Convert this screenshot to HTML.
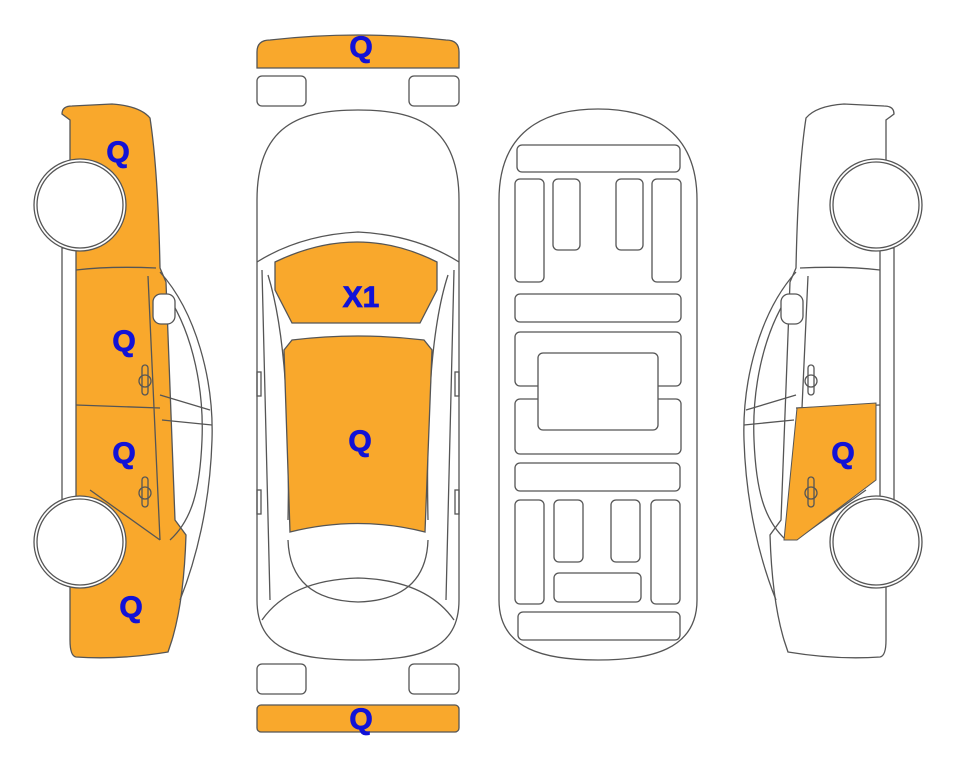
<!DOCTYPE html>
<html><head><meta charset="utf-8"><style>
html,body{margin:0;padding:0;background:#fff}
svg{display:block}
text{font-family:"Liberation Sans",Arial,sans-serif;font-weight:bold;font-size:30px;fill:#1212d6;stroke:#1212d6;stroke-width:0.8;text-anchor:middle}
</style></head><body>
<svg width="963" height="768" viewBox="0 0 963 768" xmlns="http://www.w3.org/2000/svg">
<defs>
<g id="side" stroke="#555" stroke-width="1.3" fill="none">
  <path d="M62,114 Q62,106 72,106 L112,104 Q140,106 150,118 Q158,170 160,268 L166,282 L175,520 L186,535 Q184,600 172,640 L168,652 Q120,660 76,657 Q70,656 70,640 L70,120 Z"/>
  <path d="M160,272 C196,312 214,380 212,440 C210,505 196,560 180,600"/>
  <path d="M168,296 C194,336 204,392 202,440 C200,490 192,520 170,540"/>
  <path d="M160,395 L210,410 M162,420 L212,425"/>
  <rect x="153" y="294" width="22" height="30" rx="8" fill="#fff"/>
  <path d="M76,270 Q110,266 156,268 M148,276 L160,540 M76,405 L160,408 M90,490 L160,540"/>
  <rect x="142" y="365" width="6" height="30" rx="3"/><circle cx="145" cy="381" r="6"/>
  <rect x="142" y="477" width="6" height="30" rx="3"/><circle cx="145" cy="493" r="6"/>
  <rect x="62" y="248" width="14" height="256" fill="#fff"/>
  <circle cx="80" cy="205" r="46" fill="#fff"/>
  <circle cx="80" cy="205" r="43" fill="#fff"/>
  <circle cx="80" cy="542" r="46" fill="#fff"/>
  <circle cx="80" cy="542" r="43" fill="#fff"/>
</g>
</defs>

<path d="M62,114 Q62,106 72,106 L112,104 Q140,106 150,118 Q158,170 160,268 L166,282 L175,520 L186,535 Q184,600 172,640 L168,652 Q120,660 76,657 Q70,656 70,640 L70,120 Z" fill="#f9a82c"/>
<use href="#side"/>
<text x="118" y="162">Q</text>
<text x="124" y="351">Q</text>
<text x="124" y="463">Q</text>
<text x="131" y="617">Q</text>

<use href="#side" transform="translate(956,0) scale(-1,1)"/>
<polygon points="797,408 876,403 876,480 797,540 784,540" fill="#f9a82c" stroke="#555" stroke-width="1"/>
<g stroke="#555" stroke-width="1.3" fill="none"><rect x="808" y="477" width="6" height="30" rx="3"/><circle cx="811" cy="493" r="6"/></g>
<text x="843" y="463">Q</text>

<g stroke="#555" stroke-width="1.3" fill="none">
  <path d="M257,52 Q257,40 270,40 Q358,30 446,40 Q459,40 459,52 L459,68 L257,68 Z" fill="#f9a82c"/>
  <rect x="257" y="76" width="49" height="30" rx="5"/>
  <rect x="409" y="76" width="50" height="30" rx="5"/>
  <rect x="257" y="664" width="49" height="30" rx="5"/>
  <rect x="409" y="664" width="50" height="30" rx="5"/>
  <rect x="257" y="705" width="202" height="27" rx="4" fill="#f9a82c"/>
  <path d="M257,200 C257,125 300,110 358,110 C416,110 459,125 459,200 L459,600 C459,650 420,660 358,660 C296,660 257,650 257,600 Z"/>
  <path d="M257,262 Q300,235 358,232 Q416,235 459,262"/>
  <path d="M262,270 L270,600 M454,270 L446,600"/>
  <path d="M268,275 C285,330 290,420 288,520 M448,275 C430,330 426,420 428,520"/>
  <path d="M262,620 Q290,580 358,578 Q426,580 454,620"/>
  <path d="M288,540 Q290,600 358,602 Q426,600 428,540"/>
  <path d="M275,262 Q358,222 437,262 L437,290 L420,323 L292,323 L275,290 Z" fill="#f9a82c"/>
  <path d="M284,350 L292,340 Q358,332 424,340 L432,350 L425,532 Q358,515 290,532 Z" fill="#f9a82c"/>
  <rect x="257" y="372" width="4" height="24"/><rect x="455" y="372" width="4" height="24"/>
  <rect x="257" y="490" width="4" height="24"/><rect x="455" y="490" width="4" height="24"/>
</g>
<text x="361" y="57">Q</text>
<text x="361" y="307">X1</text>
<text x="360" y="451">Q</text>
<text x="361" y="729">Q</text>

<g stroke="#555" stroke-width="1.3" fill="none">
  <path d="M499,200 C499,120 560,109 598,109 C636,109 697,120 697,200 L697,600 C697,650 650,660 598,660 C546,660 499,650 499,600 Z"/>
  <rect x="517" y="145" width="163" height="27" rx="5"/>
  <rect x="515" y="179" width="29" height="103" rx="5"/>
  <rect x="553" y="179" width="27" height="71" rx="5"/>
  <rect x="616" y="179" width="27" height="71" rx="5"/>
  <rect x="652" y="179" width="29" height="103" rx="5"/>
  <rect x="515" y="294" width="166" height="28" rx="5"/>
  <rect x="515" y="332" width="166" height="54" rx="5"/>
  <rect x="515" y="399" width="166" height="55" rx="5"/>
  <rect x="538" y="353" width="120" height="77" rx="5" fill="#fff"/>
  <rect x="515" y="463" width="165" height="28" rx="5"/>
  <rect x="515" y="500" width="29" height="104" rx="5"/>
  <rect x="554" y="500" width="29" height="62" rx="5"/>
  <rect x="611" y="500" width="29" height="62" rx="5"/>
  <rect x="651" y="500" width="29" height="104" rx="5"/>
  <rect x="554" y="573" width="87" height="29" rx="5"/>
  <rect x="518" y="612" width="162" height="28" rx="5"/>
</g>
</svg>
</body></html>
